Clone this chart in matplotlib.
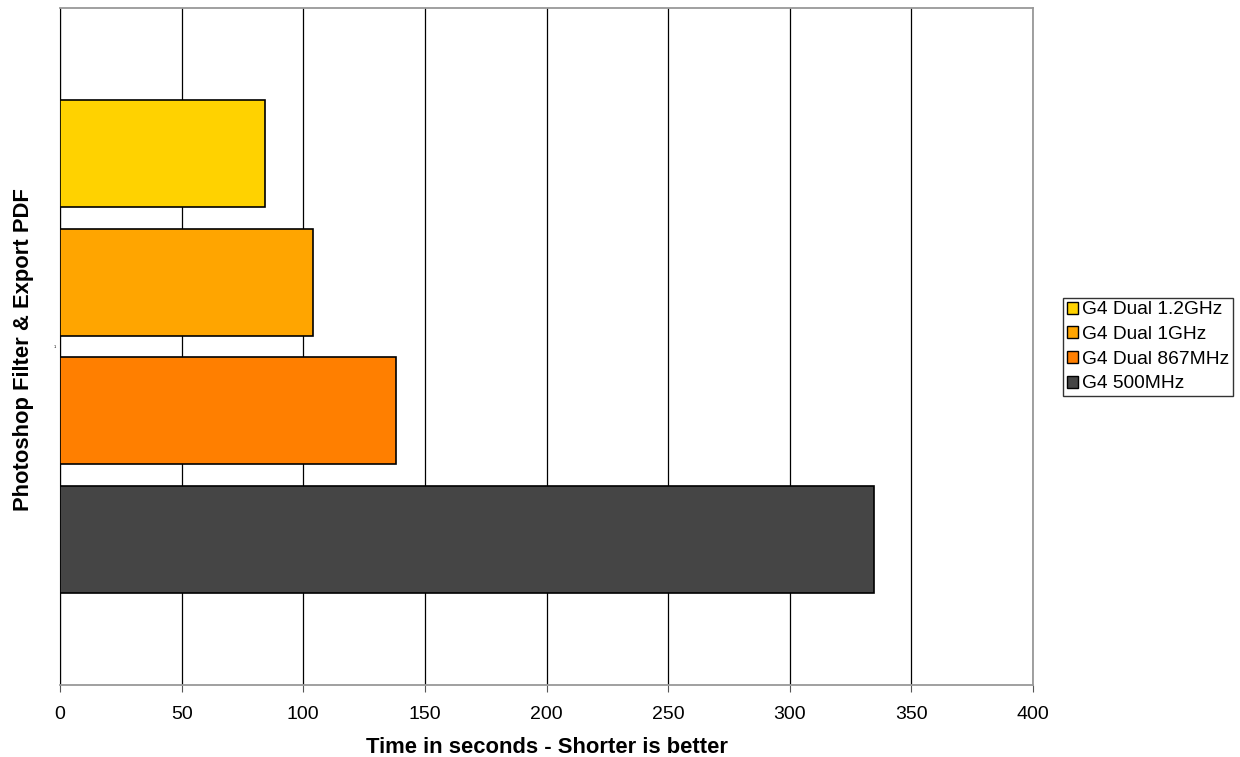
import matplotlib.pyplot as plt
from matplotlib.patches import Patch

plt.rcParams['font.family'] = ['Liberation Sans', 'DejaVu Sans']

# data, bottom to top
systems = ['G4 500MHz', 'G4 Dual 867MHz', 'G4 Dual 1GHz', 'G4 Dual 1.2GHz']
seconds = [334.5, 138.3, 104.0, 84.3]
colors = ['#454545', '#FF7F00', '#FFA500', '#FFD200']

fig = plt.figure(figsize=(12.4, 7.57), dpi=100)
ax = fig.add_axes([60 / 1240, 1 - 685 / 757, 973 / 1240, 677 / 757])

pos = list(range(len(systems)))
ax.barh(pos, seconds, height=0.83, color=colors, edgecolor='black',
        linewidth=1.2, zorder=3)

ax.set_xlim(0, 400)
ax.set_ylim(-1.125, 4.125)
ax.set_xticks(range(0, 401, 50))
ax.set_yticks([1.5])
ax.set_yticklabels(['1'], fontsize=3)
ax.tick_params(axis='y', length=0, pad=3)
ax.grid(axis='x', color='black', linewidth=0.9, zorder=0)
ax.tick_params(axis='x', direction='out', length=5, labelsize=14, pad=10,
               color='#555555')

for side in ['top', 'right', 'bottom']:
    ax.spines[side].set_color('#999999')
    ax.spines[side].set_linewidth(1.3)
ax.spines['left'].set_color('black')

ax.set_xlabel('Time in seconds - Shorter is better', fontsize=15.8,
              fontweight='bold', labelpad=10)
fig.text(24 / 1240, 1 - 350 / 757, 'Photoshop Filter & Export PDF',
         rotation=90, fontsize=15.8, fontweight='bold', ha='center', va='center')

handles = [Patch(facecolor=c, edgecolor='black', label=s)
           for s, c in zip(systems, colors)][::-1]
fig.legend(handles=handles, loc='center left',
           bbox_to_anchor=(1063 / 1240, 1 - 347 / 757), fontsize=13.8,
           frameon=True, fancybox=False, edgecolor='black', handlelength=0.6,
           handleheight=0.6, handletextpad=0.2, labelspacing=0.4,
           borderpad=0.2, borderaxespad=0)

fig.savefig('out.png', dpi=100)
